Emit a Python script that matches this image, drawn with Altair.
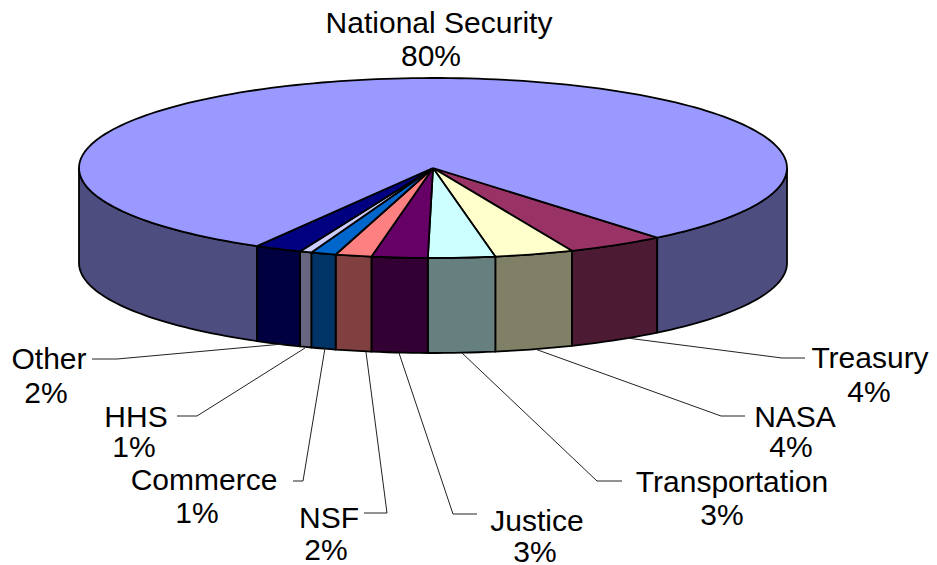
import math
import altair as alt
import pandas as pd

names = ["Treasury", "NASA", "Transportation", "Justice", "NSF", "Commerce", "HHS", "Other", "National Security"]
shares = [4.5, 3.6, 3.05, 2.55, 1.65, 1.15, 0.55, 2.15, 80.8]
top_colors = ["#993366", "#FFFFCC", "#CCFFFF", "#660066", "#FF8080", "#0066CC", "#CCCCFF", "#000080", "#9999FF"]
wall_colors = ["#4D1A33", "#808066", "#668080", "#330033", "#804040", "#003366", "#666680", "#000040", "#4D4D80"]

# Pie geometry in picture units
cx, cy, rx, ry, depth, start_deg = 433, 168, 354, 90, 95, 50.7

label_text = ["National Security", "80%", "Treasury", "4%", "NASA", "4%", "Transportation", "3%",
              "Justice", "3%", "NSF", "2%", "Commerce", "1%", "HHS", "1%", "Other", "2%"]
label_x = [439, 431, 870, 869, 795, 791, 732, 722, 537, 535, 329, 326, 204, 197, 136, 134, 49, 46]
label_y = [24, 57, 359, 393, 418, 448, 483, 516, 522, 553, 519, 551, 481, 514, 418, 448, 360, 394]

leader_names = ["Treasury", "NASA", "Transportation", "Justice", "NSF", "Commerce", "HHS", "Other"]
leader_x = [[805, 782, 627], [745, 721, 535], [622, 597, 462], [477, 453, 399],
            [364, 387, 366], [293, 303, 325], [177, 197, 305], [92, 117, 283]]
leader_y = [[358, 358, 338], [416, 416, 349], [481, 481, 353], [514, 514, 353],
            [513, 513, 352], [481, 481, 348], [416, 416, 348], [359, 359, 344]]


def pt(t, dy=0):
    r = math.radians(t)
    return cx + rx * math.cos(r), cy + ry * math.sin(r) + dy


def arc(a, b):
    n = max(2, int(abs(b - a) / 1.5) + 1)
    return [a + (b - a) * i / n for i in range(n + 1)]


walls, tops = [], []
angle = start_deg
for name, share in zip(names, shares):
    end = angle + share * 3.6
    ts = arc(angle, end)
    top_pts = [(cx, cy)] + [pt(t) for t in ts] + [(cx, cy)]
    for i, (x, y) in enumerate(top_pts):
        tops.append({"name": name, "i": i, "x": x, "y": y})
    # visible wall: the front half of the rim only
    spans = [(angle, end)] if end <= 180 else [(angle, 180), (360, end)]
    for k, (a, b) in enumerate(spans):
        s = arc(a, b)
        ring = [pt(t) for t in s] + [pt(t, depth) for t in reversed(s)]
        ring.append(ring[0])
        for i, (x, y) in enumerate(ring):
            walls.append({"name": name, "part": k, "i": i, "x": x, "y": y})
    angle = end

leaders = [
    {"name": n, "i": i, "x": x, "y": y}
    for n, xs, ys in zip(leader_names, leader_x, leader_y)
    for i, (x, y) in enumerate(zip(xs, ys))
]

W, H = 921, 557
X = alt.X("x:Q", scale=alt.Scale(domain=[8, 8 + W], nice=False, zero=False), axis=None)
Y = alt.Y("y:Q", scale=alt.Scale(domain=[8 + H, 8], nice=False, zero=False), axis=None)

wall_layer = (
    alt.Chart(pd.DataFrame(walls))
    .mark_line(filled=True, stroke="black", strokeWidth=1.8, strokeJoin="round")
    .encode(
        X, Y,
        order="i:Q",
        detail="part:N",
        color=alt.Color("name:N", scale=alt.Scale(domain=names, range=wall_colors), legend=None),
    )
)
top_layer = (
    alt.Chart(pd.DataFrame(tops))
    .mark_line(filled=True, stroke="black", strokeWidth=1.8, strokeJoin="round")
    .encode(
        X, Y,
        order="i:Q",
        color=alt.Color("name:N", scale=alt.Scale(domain=names, range=top_colors), legend=None),
    )
)
leader_layer = (
    alt.Chart(pd.DataFrame(leaders))
    .mark_line(color="#222222", strokeWidth=1)
    .encode(X, Y, order="i:Q", detail="name:N")
)
text_layer = (
    alt.Chart(pd.DataFrame({"x": label_x, "y": label_y, "t": label_text}))
    .mark_text(font="Liberation Sans", fontSize=30, color="black", align="center", baseline="middle")
    .encode(X, Y, text="t:N")
)

chart = (
    alt.layer(wall_layer, top_layer, leader_layer, text_layer)
    .resolve_scale(color="independent")
    .properties(width=W, height=H, padding=0, autosize=alt.AutoSizeParams(type="none"))
    .configure_view(stroke=None)
)
chart.save("out.html", embed_options={"renderer": "svg", "actions": False})
